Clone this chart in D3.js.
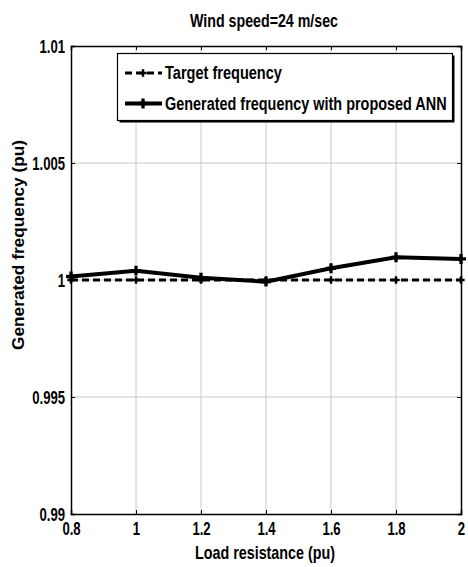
<!DOCTYPE html>
<html><head><meta charset="utf-8">
<script src="https://cdn.jsdelivr.net/npm/d3@7"></script>
<style>
body{margin:0;background:#fff;}
text{font-family:"Liberation Sans",Arial,sans-serif;font-weight:bold;fill:#000;}
</style></head><body>
<svg id="c" width="468" height="567"></svg>
<script>
const loads = [0.8, 1.0, 1.2, 1.4, 1.6, 1.8, 2.0];
const targetFreq = [1, 1, 1, 1, 1, 1, 1];
const generatedFreq = [1.00015, 1.0004, 1.0001, 0.99993, 1.0005, 1.00097, 1.0009];
const xTicks = [0.8, 1, 1.2, 1.4, 1.6, 1.8, 2];
const xTickLabels = ["0.8", "1", "1.2", "1.4", "1.6", "1.8", "2"];
const yTicks = [0.99, 0.995, 1, 1.005, 1.01];
const yTickLabels = ["0.99", "0.995", "1", "1.005", "1.01"];
const seriesNames = ["Target frequency", "Generated frequency with proposed ANN"];

const svg = d3.select("#c");
const L = 71, R = 461, T = 46, B = 514;
const x = d3.scaleLinear().domain([0.8, 2]).range([L, R]);
const y = d3.scaleLinear().domain([0.99, 1.01]).range([B, T]);

function narrow(sel, factor) {
  sel.each(function () {
    const w = this.getComputedTextLength();
    d3.select(this).attr("textLength", w * factor).attr("lengthAdjust", "spacingAndGlyphs");
  });
}

// grid
const g = svg.append("g");
g.selectAll(".vg").data(xTicks.slice(1, -1)).join("line")
  .attr("x1", d => x(d)).attr("x2", d => x(d)).attr("y1", T).attr("y2", B)
  .attr("stroke", "#c8c8c8").attr("stroke-width", 1);
g.selectAll(".hg").data(yTicks.slice(1, -1)).join("line")
  .attr("x1", L).attr("x2", R).attr("y1", d => y(d)).attr("y2", d => y(d))
  .attr("stroke", "#c8c8c8").attr("stroke-width", 1);

// axes
const xAxis = d3.axisBottom(x).tickValues(xTicks).tickFormat((d, i) => xTickLabels[i]).tickSize(-4).tickPadding(8);
const xg = svg.append("g").attr("transform", `translate(0,${B})`).call(xAxis);
svg.append("g").attr("transform", `translate(0,${T})`).call(d3.axisTop(x).tickValues(xTicks).tickFormat("").tickSize(-4));
const yAxis = d3.axisLeft(y).tickValues(yTicks).tickFormat((d, i) => yTickLabels[i]).tickSize(-4).tickPadding(6);
const yg = svg.append("g").attr("transform", `translate(${L},0)`).call(yAxis);
svg.append("g").attr("transform", `translate(${R},0)`).call(d3.axisRight(y).tickValues(yTicks).tickFormat("").tickSize(-4));
svg.selectAll(".domain").attr("stroke", "#000").attr("stroke-width", 1.5);
svg.selectAll(".tick line").attr("stroke", "#000");
svg.selectAll(".tick text").attr("font-size", 19).attr("fill", "#000")
  .style("font-family", '"Liberation Sans",Arial,sans-serif').style("font-weight", "bold");
narrow(svg.selectAll(".tick text"), 0.69);

// lines
const line = d3.line().x((d, i) => x(loads[i])).y(d => y(d));
svg.append("path").datum(targetFreq).attr("d", line)
  .attr("fill", "none").attr("stroke", "#000").attr("stroke-width", 3).attr("stroke-dasharray", "7,4");
svg.append("path").datum(generatedFreq).attr("d", line)
  .attr("fill", "none").attr("stroke", "#000").attr("stroke-width", 4);
const mk = d3.symbol().type(d3.symbolCross).size(30);
const mk2 = d3.symbol().type(d3.symbolCross).size(55);
svg.selectAll(".m1").data(targetFreq).join("path")
  .attr("d", mk).attr("transform", (d, i) => `translate(${x(loads[i])},${y(d)})`).attr("fill", "#000");
svg.selectAll(".m2").data(generatedFreq).join("path")
  .attr("d", mk2).attr("transform", (d, i) => `translate(${x(loads[i])},${y(d)})`).attr("fill", "#000");

// legend
const lg = svg.append("g");
lg.append("rect").attr("x", 119.5).attr("y", 55.5).attr("width", 335).attr("height", 67).attr("fill", "#000");
lg.append("rect").attr("x", 117.5).attr("y", 53.5).attr("width", 335).attr("height", 67)
  .attr("fill", "#fff").attr("stroke", "#000").attr("stroke-width", 1.2);
const legY = [73, 103.5];
lg.append("line").attr("x1", 125).attr("x2", 162).attr("y1", legY[0]).attr("y2", legY[0])
  .attr("stroke", "#000").attr("stroke-width", 3).attr("stroke-dasharray", "7,4");
lg.append("path").attr("d", mk).attr("transform", `translate(143,${legY[0]})`);
lg.append("line").attr("x1", 125).attr("x2", 162).attr("y1", legY[1]).attr("y2", legY[1])
  .attr("stroke", "#000").attr("stroke-width", 4);
lg.append("path").attr("d", mk2).attr("transform", `translate(143,${legY[1]})`);
const legendLens = [117, 282];
seriesNames.forEach((name, i) => {
  const tg = lg.append("g").attr("transform", `translate(165,${legY[i]})`);
  const t = tg.append("text").attr("x", 0).attr("y", 0).attr("dy", "0.36em")
    .attr("font-size", 18).text(name);
  const w = t.node().getComputedTextLength();
  tg.attr("transform", `translate(165,${legY[i]}) scale(${legendLens[i] / w},1)`);
});

// title & labels
svg.append("text").attr("x", 264).attr("y", 27).attr("text-anchor", "middle")
  .attr("font-size", 18).attr("textLength", 148).attr("lengthAdjust", "spacingAndGlyphs")
  .text("Wind speed=24 m/sec");
svg.append("text").attr("x", 265).attr("y", 559).attr("text-anchor", "middle")
  .attr("font-size", 18.5).attr("textLength", 140).attr("lengthAdjust", "spacingAndGlyphs")
  .text("Load resistance (pu)");
svg.append("text").attr("transform", "translate(24,245) rotate(-90)").attr("text-anchor", "middle")
  .attr("font-size", 16).attr("textLength", 210).attr("lengthAdjust", "spacingAndGlyphs")
  .text("Generated frequency (pu)");
</script>
</body></html>
